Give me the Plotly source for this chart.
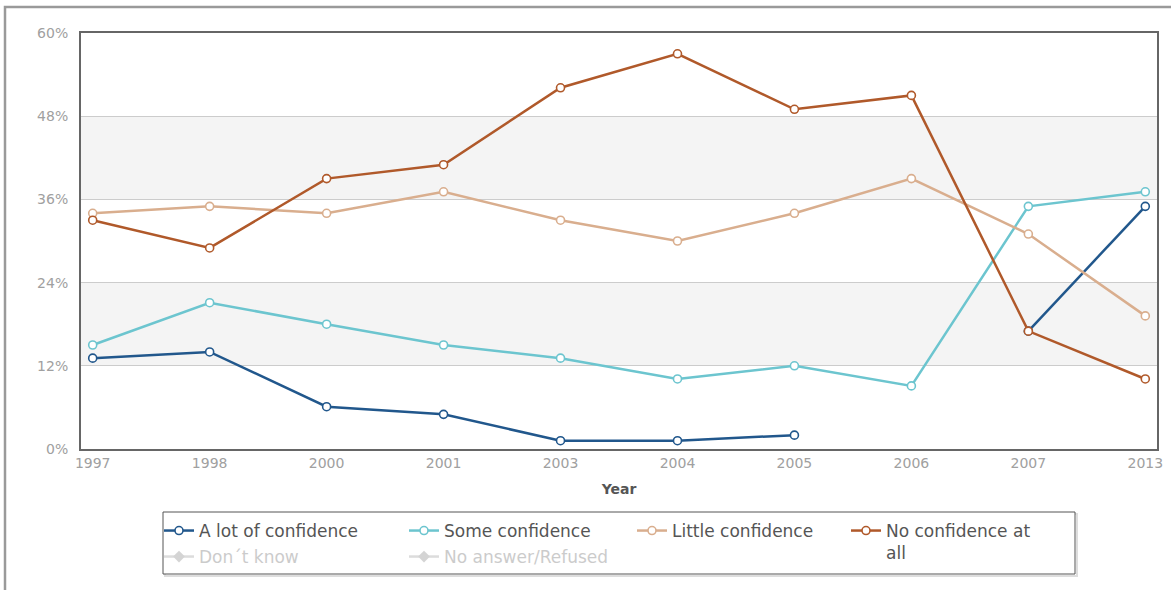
import plotly.graph_objects as go

years = ["1997", "1998", "2000", "2001", "2003", "2004", "2005", "2006", "2007", "2013"]
a_lot = [13.1, 14.0, 6.1, 5.0, 1.2, 1.2, 2.0, None, 17.0, 35.0]
some = [15.0, 21.1, 18.0, 15.0, 13.1, 10.1, 12.0, 9.1, 35.0, 37.1]
little = [34.0, 35.0, 34.0, 37.1, 33.0, 30.0, 34.0, 39.0, 31.0, 19.2]
no_conf = [33.0, 29.0, 39.0, 41.0, 52.1, 57.0, 49.0, 51.0, 17.0, 10.1]
dont_know = [None] * len(years)
no_answer = [None] * len(years)

y_ticks = [0, 12, 24, 36, 48, 60]
y_ticklabels = ["0%", "12%", "24%", "36%", "48%", "60%"]
bands = [(12, 24), (36, 48)]

# plot area geometry (pixels) used to place legend entries
PL, PW, PB, PH = 81, 1076, 449, 416


def px_x(px):
    return (px - PL) / PW


def px_y(py):
    return (PB - py) / PH


series = [
    ("A lot of confidence", a_lot, "#21578c", "legend", 180, 525),
    ("Some confidence", some, "#6cc5cf", "legend2", 425, 525),
    ("Little confidence", little, "#d9ae8e", "legend3", 653, 525),
    ("No confidence at<br>all", no_conf, "#b0592a", "legend4", 867, 525),
]
hidden = [
    ("Don´t know", dont_know, "legend5", 180, 551),
    ("No answer/Refused", no_answer, "legend6", 425, 551),
]

fig = go.Figure()
legends = {}
for name, vals, col, lg, mx, my in series:
    fig.add_trace(go.Scatter(
        x=years, y=vals, name=name, mode="lines+markers", legend=lg,
        line=dict(color=col, width=2.5),
        marker=dict(symbol="circle", size=8, color="white", line=dict(color=col, width=1.6)),
        connectgaps=False,
    ))
    legends[lg] = (mx, my, "#555555")
for name, vals, lg, mx, my in hidden:
    fig.add_trace(go.Scatter(
        x=years, y=vals, name=name, mode="lines+markers", visible="legendonly", legend=lg,
        line=dict(color="#bbbbbb", width=2.5),
        marker=dict(symbol="diamond", size=9, color="#aaaaaa"),
    ))
    legends[lg] = (mx, my, "#999999")

for lg, (mx, my, fc) in legends.items():
    fig.update_layout(**{lg: dict(
        x=px_x(mx - 21), xanchor="left", y=px_y(my - 12), yanchor="top",
        orientation="v", bgcolor="rgba(0,0,0,0)", borderwidth=0, valign="top",
        font=dict(family="DejaVu Sans", size=17, color=fc), itemwidth=30,
    )})

shapes = []
for y0, y1 in bands:
    shapes.append(dict(type="rect", xref="paper", yref="y", x0=0, x1=1, y0=y0, y1=y1,
                       fillcolor="#f4f4f4", line=dict(width=0), layer="below"))
# outer frame
shapes.append(dict(type="rect", xref="paper", yref="paper",
                   x0=px_x(5), x1=px_x(1185), y0=px_y(600), y1=px_y(7),
                   line=dict(color="#9a9a9a", width=2.5), fillcolor="rgba(0,0,0,0)", layer="below"))
# legend frame + soft shadow
shapes.append(dict(type="rect", xref="paper", yref="paper",
                   x0=px_x(165), x1=px_x(1077), y0=px_y(576), y1=px_y(514),
                   line=dict(color="#dddddd", width=2), fillcolor="rgba(0,0,0,0)", layer="above"))
shapes.append(dict(type="rect", xref="paper", yref="paper",
                   x0=px_x(163), x1=px_x(1075), y0=px_y(574), y1=px_y(512),
                   line=dict(color="#555555", width=1), fillcolor="white", layer="above"))

fig.update_layout(
    width=1171, height=590,
    margin=dict(l=PL, r=1171 - PL - PW, t=PB - PH, b=590 - PB, autoexpand=False),
    paper_bgcolor="white", plot_bgcolor="white",
    font=dict(family="DejaVu Sans", color="#999999"),
    shapes=shapes,
    showlegend=True,
    xaxis=dict(
        type="category", range=[-0.1, 9.1],
        showgrid=False, showline=True, mirror=True, linecolor="#666666", linewidth=2,
        ticks="", tickfont=dict(size=14, color="#a0a0a0"),
        title=dict(text="<b>Year</b>", font=dict(size=14, color="#555555"), standoff=14),
    ),
    yaxis=dict(
        range=[0, 60], tickvals=y_ticks, ticktext=y_ticklabels,
        showgrid=True, gridcolor="#cccccc", gridwidth=1,
        showline=True, mirror=True, linecolor="#666666", linewidth=2,
        zeroline=False, ticks="", tickfont=dict(size=14, color="#a0a0a0"),
        ticklabelstandoff=8,
    ),
)

fig.write_html("out.html")
